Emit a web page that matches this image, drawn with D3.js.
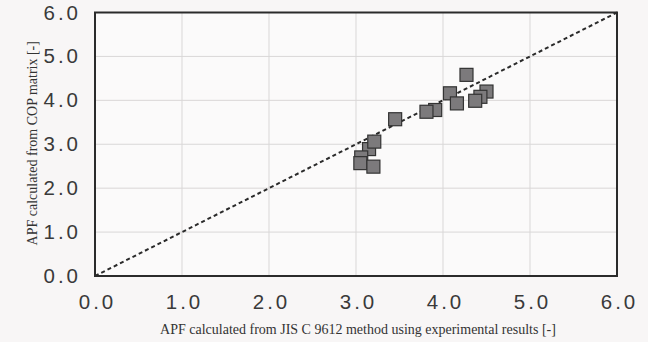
<!DOCTYPE html>
<html>
<head>
<meta charset="utf-8">
<script src="https://d3js.org/d3.v7.min.js"></script>
<style>
  body { margin: 0; background: #f8f6f6; }
  svg { display: block; }
</style>
</head>
<body>
<svg id="chart" width="648" height="342"></svg>
<script>
// APF values
const apfJis = [4.27, 4.08, 4.16, 4.50, 4.43, 4.37, 3.91, 3.81, 3.45, 3.15, 3.21, 3.06, 3.05, 3.20];
const apfCop = [4.58, 4.16, 3.93, 4.20, 4.08, 3.99, 3.78, 3.74, 3.57, 2.89, 3.06, 2.70, 2.57, 2.49];
const tickValues = [0, 1, 2, 3, 4, 5, 6];

const width = 648, height = 342;
const margin = { top: 12.5, right: 31, bottom: 66, left: 95 };

const svg = d3.select('#chart');
svg.append('rect').attr('width', width).attr('height', height).attr('fill', '#f8f6f6');

const x = d3.scaleLinear().domain([0, 6]).range([margin.left, width - margin.right]);
const y = d3.scaleLinear().domain([0, 6]).range([height - margin.bottom, margin.top]);

// plot area
svg.append('rect')
  .attr('x', x(0)).attr('y', y(6))
  .attr('width', x(6) - x(0)).attr('height', y(0) - y(6))
  .attr('fill', '#fbfafa');

// grid
svg.append('g').selectAll('line').data(tickValues.slice(1, -1)).join('line')
  .attr('x1', d => x(d)).attr('x2', d => x(d))
  .attr('y1', y(0)).attr('y2', y(6))
  .attr('stroke', '#d9d7d7').attr('stroke-width', 1);
svg.append('g').selectAll('line').data(tickValues.slice(1, -1)).join('line')
  .attr('y1', d => y(d)).attr('y2', d => y(d))
  .attr('x1', x(0)).attr('x2', x(6))
  .attr('stroke', '#d9d7d7').attr('stroke-width', 1);

// axes (labels only, border drawn separately)
const xAxis = svg.append('g')
  .attr('transform', `translate(0,${y(0)})`)
  .call(d3.axisBottom(x).tickValues(tickValues).tickFormat(d3.format('.1f')).tickSize(0).tickPadding(18));
const yAxis = svg.append('g')
  .attr('transform', `translate(${x(0)},0)`)
  .call(d3.axisLeft(y).tickValues(tickValues).tickFormat(d3.format('.1f')).tickSize(0).tickPadding(14));
[xAxis, yAxis].forEach(a => {
  a.select('.domain').remove();
  a.selectAll('text')
    .attr('font-family', "'Liberation Sans', Arial, sans-serif")
    .attr('font-size', 20.5)
    .attr('letter-spacing', 3)
    .attr('fill', '#3a3a3a');
});
xAxis.selectAll('text').attr('dx', 2);

// diagonal y = x
svg.append('line')
  .attr('x1', x(0)).attr('y1', y(0)).attr('x2', x(6)).attr('y2', y(6))
  .attr('stroke', '#2a2a2a').attr('stroke-width', 2).attr('stroke-dasharray', '4,3');

// squares
const size = 13;
svg.append('g').selectAll('rect').data(apfJis.map((v, i) => [v, apfCop[i]])).join('rect')
  .attr('x', d => x(d[0]) - size / 2)
  .attr('y', d => y(d[1]) - size / 2)
  .attr('width', size).attr('height', size)
  .attr('fill', '#7c7a7c').attr('stroke', '#333').attr('stroke-width', 1.2);

// border
svg.append('rect')
  .attr('x', x(0)).attr('y', y(6))
  .attr('width', x(6) - x(0)).attr('height', y(0) - y(6))
  .attr('fill', 'none').attr('stroke', '#2b2b2b').attr('stroke-width', 2);

// axis titles
svg.append('text')
  .attr('x', (x(0) + x(6)) / 2 + 2).attr('y', 334)
  .attr('text-anchor', 'middle')
  .attr('font-family', "'Liberation Serif', 'Times New Roman', serif")
  .attr('font-size', 14).attr('fill', '#333')
  .text('APF calculated from JIS C 9612 method using experimental results [-]');
svg.append('text')
  .attr('transform', `translate(37,${(y(0) + y(6)) / 2 - 1}) rotate(-90)`)
  .attr('text-anchor', 'middle')
  .attr('font-family', "'Liberation Serif', 'Times New Roman', serif")
  .attr('font-size', 14).attr('fill', '#333')
  .text('APF calculated from COP matrix [-]');
</script>
</body>
</html>
